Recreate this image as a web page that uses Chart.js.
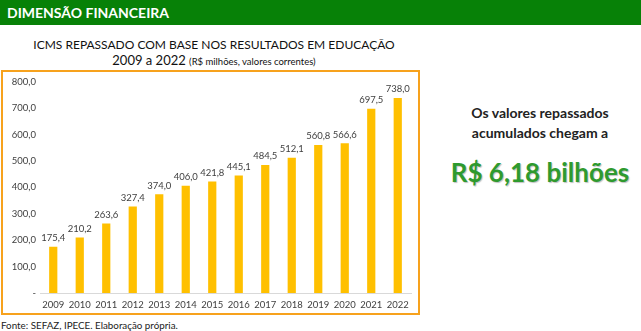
<!DOCTYPE html>
<html>
<head>
<meta charset="utf-8">
<script src="https://cdn.jsdelivr.net/npm/chart.js@4"></script>
<style>
  body { margin: 0; width: 641px; height: 331px; background: #fff; font-family: Lato, "Open Sans", sans-serif; position: relative; overflow: hidden; }
  #header { position: absolute; left: 0; top: 0; width: 641px; height: 25px; background: #078107; color: #fff; font-weight: bold; font-size: 14px; line-height: 26px; padding-left: 7px; box-sizing: border-box; }
  #title1 { position: absolute; left: 0; width: 428px; top: 37px; text-align: center; font-size: 12px; color: #111; }
  #title2 { position: absolute; left: 0; width: 428px; top: 52px; text-align: center; font-size: 13px; color: #111; }
  #title2 small { font-size: 9.5px; }
  #box { position: absolute; left: 1px; top: 70px; width: 419px; height: 245px; border: 2px solid #F7A21D; box-sizing: border-box; }
  #chartWrap { position: absolute; left: 3px; top: 72px; width: 415px; height: 241px; }
  #side1 { position: absolute; left: 440px; width: 200px; top: 103px; text-align: center; font-size: 14px; font-weight: bold; color: #222; line-height: 20px; }
  #side2 { position: absolute; left: 420px; width: 240px; top: 156px; text-align: center; font-size: 26px; font-weight: bold; color: #2E9A2E; text-shadow: 1px 1px 1px rgba(0,0,0,0.25); }
  #source { position: absolute; left: 1px; top: 319px; font-size: 9.8px; color: #222; }
</style>
</head>
<body>
<div id="header">DIMENSÃO FINANCEIRA</div>
<div id="title1">ICMS REPASSADO COM BASE NOS RESULTADOS EM EDUCAÇÃO</div>
<div id="title2">2009 a 2022 <small>(R$ milhões, valores correntes)</small></div>
<div id="box"></div>
<div id="chartWrap"><canvas id="icmsChart"></canvas></div>
<div id="side1">Os valores repassados<br>acumulados chegam a</div>
<div id="side2">R$ 6,18 bilhões</div>
<div id="source">Fonte: SEFAZ, IPECE. Elaboração própria.</div>
<script>
const years = ['2009', '2010', '2011', '2012', '2013', '2014', '2015', '2016', '2017', '2018', '2019', '2020', '2021', '2022'];
const repasse = [175.4, 210.2, 263.6, 327.4, 374.0, 406.0, 421.8, 445.1, 484.5, 512.1, 560.8, 566.6, 697.5, 738.0];
const yTicks = [0, 100, 200, 300, 400, 500, 600, 700, 800];

function fmt(v) {
    return v.toFixed(1).replace('.', ',');
}

// rótulos de dados acima das barras
const barLabels = {
    id: 'barLabels',
    afterDatasetsDraw(chart) {
        const ctx = chart.ctx;
        const meta = chart.getDatasetMeta(0);
        ctx.save();
        ctx.font = '9.5px Lato, sans-serif';
        ctx.fillStyle = '#404040';
        ctx.textAlign = 'center';
        ctx.textBaseline = 'bottom';
        meta.data.forEach(function(bar, i) {
            ctx.fillText(fmt(repasse[i]), bar.x, bar.y - 4);
        });
        ctx.restore();
    }
};

const ctx = document.getElementById('icmsChart').getContext('2d');
new Chart(ctx, {
    type: 'bar',
    data: {
        labels: years,
        datasets: [{
            data: repasse,
            backgroundColor: '#FFC000',
            categoryPercentage: 1,
            barPercentage: 0.31
        }]
    },
    options: {
        responsive: true,
        maintainAspectRatio: false,
        animation: false,
        layout: { padding: { left: 0, right: 7, top: 8, bottom: 0 } },
        plugins: { legend: { display: false }, tooltip: { enabled: false } },
        scales: {
            x: {
                grid: { display: false, drawTicks: false },
                border: { color: '#d9d9d9', width: 1 },
                ticks: { color: '#404040', font: { family: 'Lato', size: 9.5 }, padding: 6, maxRotation: 0 },
                afterFit: function(s) { s.height = 20; }
            },
            y: {
                min: 0,
                max: 800,
                afterBuildTicks: function(s) { s.ticks = yTicks.map(v => ({ value: v })); },
                grid: { display: false, drawTicks: false },
                border: { display: false },
                ticks: {
                    color: '#404040',
                    font: { family: 'Lato', size: 9.5 },
                    padding: 4,
                    callback: function(v) { return v === 0 ? '-' : fmt(v); }
                },
                afterFit: function(s) { s.width = 37; }
            }
        }
    },
    plugins: [barLabels]
});
</script>
</body>
</html>
